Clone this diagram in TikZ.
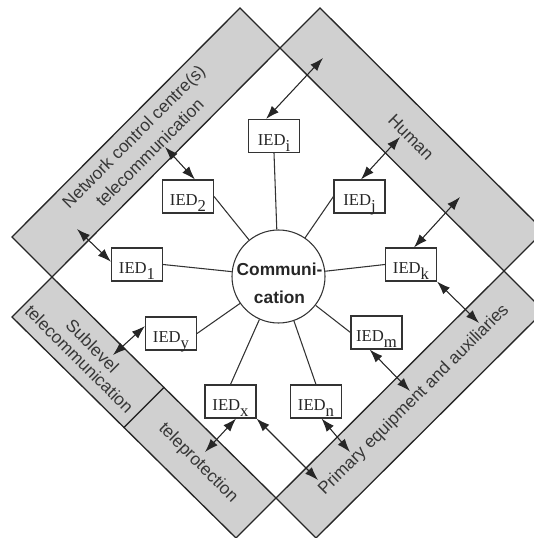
\documentclass[tikz,border=0pt]{standalone}
\usepackage{fontspec}
\setmainfont{Liberation Serif}
\setsansfont{Liberation Sans}
\usetikzlibrary{arrows.meta,calc}
\definecolor{bandgray}{RGB}{208,208,208}
\definecolor{inkgray}{RGB}{55,55,55}
\newcommand{\iedlabel}[1]{IED\raisebox{-4.5pt}{\fontsize{12.5}{14}\selectfont #1}}

\tikzset{
  band/.style={fill=bandgray, draw=black!85, line width=1pt},
  bandtext/.style={font=\sffamily\fontsize{13}{17}\selectfont, text=inkgray, align=center, inner sep=0pt},
  ied/.style={draw=black!80, line width=0.8pt, fill=white, minimum width=38.25pt, minimum height=24.75pt,
    inner sep=0pt, text height=16pt, text depth=2pt, font=\fontsize{12.5}{14}\selectfont, text=black!85},
  link/.style={draw=black!80, line width=0.8pt},
  twoway/.style={{Latex[length=10pt,width=7pt]}-{Latex[length=10pt,width=7pt]}, line width=0.8pt, draw=black!85},
}

\begin{document}
\begin{tikzpicture}[x=0.75pt,y=-0.75pt]
  \useasboundingbox (0,0) rectangle (534,538);
  \clip (0,0) rectangle (534,538);
  % corners of the inner square
  \coordinate (T) at (280,48);
  \coordinate (R) at (504,271);
  \coordinate (B) at (276,498);
  \coordinate (L) at (52,277);
  \coordinate (M) at ($(L)!0.5!(B)$);
  % bands
  \draw[band] (T) -- ++(-40,-40) -- ($(L)+(-40,-40)$) -- (L) -- cycle;
  \draw[band] (T) -- ++(40,-40) -- ($(R)+(40,-40)$) -- (R) -- cycle;
  \draw[band] (R) -- ++(40,40) -- ($(B)+(40,40)$) -- (B) -- cycle;
  \draw[band] (L) -- ++(-40,40) -- ($(M)+(-40,40)$) -- (M) -- cycle;
  \draw[band] (M) -- ++(-40,40) -- ($(B)+(-40,40)$) -- (B) -- cycle;
  % band labels
  \node[bandtext, rotate=45] (nettxt) at (141.5,144.5) {Network control centre(s)\\telecommunication};
  \node[bandtext, rotate=-45] (humtxt) at (411,137) {Human};
  \node[bandtext, rotate=45] (pritxt) at (414,400) {Primary equipment and auxiliaries};
  \node[bandtext, rotate=-45, font=\sffamily\fontsize{13}{14}\selectfont] (subtxt) at (86,352.5) {Sublevel\\telecommunication};
  \node[bandtext, rotate=-45] (teltxt) at (198,463) {teleprotection};
  % free ends inside the bands
  \coordinate (hum1) at (323,58);
  \coordinate (hum2) at (400,137);
  \coordinate (hum3) at (460,197);
  \coordinate (net1) at (165,147);
  \coordinate (net2) at (77,229);
  \coordinate (pri1) at (479,323);
  \coordinate (pri2) at (410,391);
  \coordinate (pri3) at (350,452);
  \coordinate (pri4) at (318,480);
  \coordinate (tel1) at (205,452);
  \coordinate (sub1) at (113,355);
  % communication hub
  \node[circle, draw=black!80, line width=0.8pt, minimum size=69.75pt, inner sep=0pt] (comm) at (278.5,276.5) {};
  \node[font=\sffamily\bfseries\fontsize{13}{21}\selectfont, align=center, text=black!85, inner sep=0pt] (commtxt) at (279.5,283) {Communi-\\cation};
  % IEDs
  \node[ied] (iedi) at (274,136) {\iedlabel{i}};
  \node[ied] (ied2) at (188,196.5) {\iedlabel{2}};
  \node[ied] (ied1) at (137,264.5) {\iedlabel{1}};
  \node[ied] (iedj) at (359.5,196.5) {\iedlabel{j}};
  \node[ied] (iedk) at (411,264.5) {\iedlabel{k}};
  \node[ied] (iedm) at (376.5,332.5) {\iedlabel{m}};
  \node[ied] (iedn) at (316,401.5) {\iedlabel{n}};
  \node[ied] (iedx) at (230.5,401.5) {\iedlabel{x}};
  \node[ied] (iedy) at (171,333.5) {\iedlabel{y}};
  % links to the hub
  \foreach \n/\a in {iedi/south, ied2/east, ied1/east, iedj/west, iedk/west, iedm/west, iedn/north, iedx/north, iedy/east}
    \draw[link] (comm) -- (\n.\a);
  % two-way arrows to the bands
  \foreach \n/\a/\c in {iedi/115/hum1, ied2/68/net1, ied1/174/net2, iedj/85/hum2, iedk/80/hum3,
      iedk/south east/pri1, iedm/248/pri2, iedn/-72/pri3, iedx/-72/tel1, iedx/south east/pri4, iedy/164/sub1}
    \draw[twoway] (\n.\a) -- (\c);
\end{tikzpicture}
\end{document}
